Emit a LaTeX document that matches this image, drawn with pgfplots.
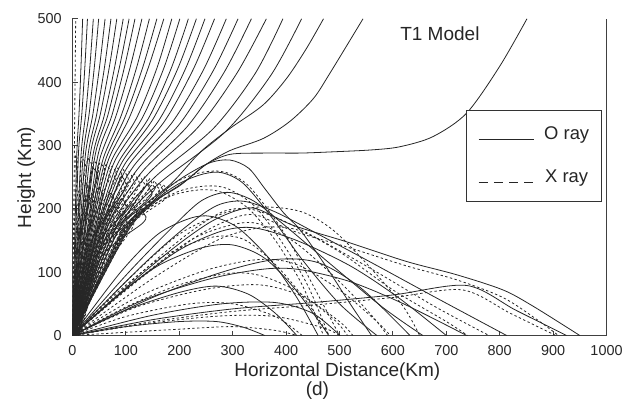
\documentclass[border=0pt]{standalone}
\usepackage{fontspec}
\setmainfont{Liberation Sans}
\usepackage{pgfplots}
\pgfplotsset{compat=1.18}
\pgfplotsset{
  oray/.style={black!85, line width=0.4pt, smooth, forget plot},
  xray/.style={black!85, line width=0.4pt, smooth, dash pattern=on 1.2pt off 1.2pt, forget plot},
}
\begin{document}
\begin{tikzpicture}
\begin{axis}[
  scale only axis, width=267pt, height=158.35pt,
  xmin=0, xmax=1000, ymin=0, ymax=500,
  xtick={0,100,...,1000}, ytick={0,100,...,500},
  scaled ticks=false,
  /pgf/number format/1000 sep={},
  /pgf/number format/assume math mode=true,
  axis x line*=bottom, axis y line*=left,
  axis line style={black!75, line width=0.5pt},
  tick align=inside, major tick length=2.5pt,
  tick style={black!75, line width=0.5pt},
  ticklabel style={font=\fontsize{7.2}{8}\selectfont, text=black!85},
  xticklabel style={yshift=-1.35pt},
  yticklabel style={xshift=-1.85pt},
  clip mode=individual,
  legend style={at={(0.991,0.712)}, anchor=north east, draw=black!80, line width=0.5pt,
    fill=white, font=\fontsize{9.2}{10}\selectfont, inner xsep=6pt, inner ysep=8pt,
    row sep=13.8pt, column sep=5pt, nodes={inner sep=0pt, text=black!85}},
  legend image code/.code={\draw[#1] (0pt,-2.3pt) -- (27.5pt,-2.3pt);},
]
\addlegendimage{black!85, line width=0.5pt}
\addlegendentry{O ray}
\addlegendimage{black!85, line width=0.5pt, dash pattern=on 4.5pt off 3.1pt}
\addlegendentry{X ray}

% escaping O rays
\addplot[oray] coordinates {(0,0)(4,142)(8,285)(12.2,350)(15.9,425)(19,500)};
\addplot[oray] coordinates {(0,0)(5.5,142)(11,285)(17.5,350)(23.2,425)(28,500)};
\addplot[oray] coordinates {(0,0)(8,142)(16,285)(24.7,350)(32.6,425)(39,500)};
\addplot[oray] coordinates {(0,0)(10,142)(20,284)(31,349)(40.9,424)(49,500)};
\addplot[oray] coordinates {(0,0)(12,142)(24,284)(38.1,349)(50.6,424)(61,500)};
\addplot[oray] coordinates {(0,0)(14.5,142)(29,284)(45.3,349)(60,424)(72,500)};
\addplot[oray] coordinates {(0,0)(16.5,142)(33,284)(52,349)(69,424)(83,500)};
\addplot[oray] coordinates {(0,0)(19,141)(38,283)(59.7,348)(79,424)(95,500)};
\addplot[oray] coordinates {(0,0)(21,141)(42,283)(66.3,348)(88,424)(106,500)};
\addplot[oray] coordinates {(0,0)(23.5,141)(47,282)(73.6,347)(97.4,424)(117,500)};
\addplot[oray] coordinates {(0,0)(29,160)(38.7,221)(52,281.5)(81.6,347)(108,423.5)(130,500)};
\addplot[oray] coordinates {(0,0)(31.8,160)(42.8,220)(58,280.6)(90.7,346)(120,423)(144,500)};
\addplot[oray] coordinates {(0,0)(33.8,160)(46.1,220)(63,280)(99,346)(131.4,423)(158,500)};
\addplot[oray] coordinates {(0,0)(35.9,160)(49.4,219.5)(68,279)(107,345)(142,423)(171,500)};
\addplot[oray] coordinates {(0,0)(38.3,160)(53.3,219)(74,278)(121,345)(158,422)(186,500)};
\addplot[oray] coordinates {(0,0)(40.7,160)(57.2,218.5)(80,277)(131,344)(171,422)(201,500)};
\addplot[oray] coordinates {(0,0)(43.5,160)(61.8,217.5)(87,275)(142,342.5)(184.5,421)(217,500)};
\addplot[oray] coordinates {(0,0)(45.6,160)(65.5,217)(93,274)(151,342)(197,421)(232,500)};
\addplot[oray] coordinates {(0,0)(47.7,160)(69.2,216)(99,272)(162,340)(211,420)(248,500)};
\addplot[oray] coordinates {(0,0)(50.3,160)(73.7,215)(106,270)(173,339)(226,420)(266,500)};
\addplot[oray] coordinates {(0,0)(53.6,160)(79.4,214)(115,268)(188,338)(245,419)(288,500)};
\addplot[oray] coordinates {(0,0)(56.9,160)(85.1,212.5)(124,265)(202,335.5)(263.5,418)(310,500)};
\addplot[oray] coordinates {(0,0)(60.5,160)(91.4,211)(134,262)(218,333)(285,417)(335,500)};
\addplot[oray] coordinates {(0,0)(64.7,160)(98.4,209)(145,258)(237,330.6)(308.5,415)(363,500)};
\addplot[oray] coordinates {(0,0)(70,160)(107,206.5)(158,253)(264,327)(342,413.5)(394,500)};
\addplot[oray] coordinates {(0,0)(75.8,160)(116.2,203.5)(172,247)(288,323)(372,411.5)(429,500)};
\addplot[oray] coordinates {(0,0)(82.5,160)(125.5,200)(185,240)(240,290)(295,327)(357,364)(401,406)(438,453)(470,500)};
\addplot[oray] coordinates {(0,0)(92,160)(140,205)(200,236)(250,270)(295,292)(357,311)(407,338)(451,374)(482,414)(544,500)};
\addplot[oray] coordinates {(0,0)(100,160)(150,208)(210,243)(250,270)(295,286)(360,288)(426,288)(488,290)(560,293)(613,298)(675,314)(738,351)(800,425)(851,500)};

% high-angle X rays returning near the origin
\addplot[xray] coordinates {(0,0)(3,250)(6,500)};
\addplot[xray] coordinates {(0,0)(4,160)(5.1,276.2)(8.1,281.2)(10.1,274.2)(9.3,260)(3.2,168.7)(0.6,0)};
\addplot[xray] coordinates {(0,0)(10,160)(16,273.5)(20,278.5)(24,270.5)(22.5,256.5)(7.8,167.1)(1.5,0)};
\addplot[xray] coordinates {(0,0)(16,160)(26.7,270.7)(31.7,275.7)(36.7,267.7)(34.7,253.7)(12.4,165.4)(2.4,0)};
\addplot[xray] coordinates {(0,0)(22,160)(37.2,267)(43.2,273)(48.2,265)(46.2,251)(16.9,163.8)(3.3,0)};
\addplot[xray] coordinates {(0,0)(28,160)(48.4,264.3)(54.4,270.3)(59.4,262.3)(57.4,248.3)(21.3,162.2)(4.2,0)};
\addplot[xray] coordinates {(0,0)(34,160)(59.4,261.5)(65.4,267.5)(70.4,259.5)(68.4,245.5)(25.6,160.5)(5.1,0)};
\addplot[xray] coordinates {(0,0)(40,160)(70.1,258.8)(76.1,264.8)(81.1,256.8)(79.1,242.8)(29.8,158.9)(6,0)};
\addplot[xray] coordinates {(0,0)(46,160)(80.7,256.1)(86.7,262.1)(91.7,254.1)(89.7,240.1)(33.9,157.3)(6.9,0)};
\addplot[xray] coordinates {(0,0)(52,160)(90.9,253.4)(96.9,259.4)(101.9,251.4)(99.9,237.4)(37.9,155.6)(7.8,0)};
\addplot[xray] coordinates {(0,0)(58,160)(101,250.6)(107,256.6)(112,248.6)(110,234.6)(41.9,154)(8.7,0)};
\addplot[xray] coordinates {(0,0)(64,160)(110.8,247.9)(116.8,253.9)(121.8,245.9)(119.8,231.9)(45.7,152.3)(9.6,0)};
\addplot[xray] coordinates {(0,0)(70,160)(120.4,245.2)(126.4,251.2)(131.4,243.2)(129.4,229.2)(49.4,150.7)(10.5,0)};
\addplot[xray] coordinates {(0,0)(76,160)(129.7,242.5)(135.7,248.5)(140.7,240.5)(138.7,226.5)(53.1,149.1)(11.4,0)};
\addplot[xray] coordinates {(0,0)(82,160)(138.8,239.7)(144.8,245.7)(149.8,237.7)(147.8,223.7)(56.7,147.4)(12.3,0)};
\addplot[xray] coordinates {(0,0)(88,160)(147.7,237)(153.7,243)(158.7,235)(156.7,221)(60.1,145.8)(13.2,0)};
\addplot[xray] coordinates {(0,0)(94,160)(156.3,234.3)(162.3,240.3)(167.3,232.3)(165.3,218.3)(63.5,144.2)(14,0)};
\addplot[xray] coordinates {(0,0)(100,160)(164.7,231.5)(170.7,237.5)(175.7,229.5)(173.7,215.5)(66.8,142.5)(15,0)};
\addplot[xray] coordinates {(0,0)(7,160)(9.4,222.5)(11.4,226.5)(13.4,219.5)(12.4,205)(8,124.6)(0.5,0)};
\addplot[xray] coordinates {(0,0)(19,160)(26.1,216.5)(30.1,220.5)(35.1,212.5)(33.1,198.5)(21.1,121.3)(1.5,0)};
\addplot[xray] coordinates {(0,0)(31,160)(41.8,208.5)(47.8,214.5)(52.8,206.5)(50.8,192.5)(33.5,118)(2.5,0)};
\addplot[xray] coordinates {(0,0)(43,160)(58.4,202.5)(64.4,208.5)(69.4,200.5)(67.4,186.5)(45.1,114.7)(3.5,0)};
\addplot[xray] coordinates {(0,0)(55,160)(74.1,196.5)(80.1,202.5)(85.1,194.5)(83.1,180.5)(48.1,111.4)(4.5,0)};
\addplot[xray] coordinates {(0,0)(67,160)(88.6,190.5)(94.6,196.5)(99.6,188.5)(97.6,174.5)(56.8,108.1)(5.5,0)};
\addplot[xray] coordinates {(0,0)(79,160)(102.1,184.5)(108.1,190.5)(113.1,182.5)(111.1,168.5)(60,104.8)(6.5,0)};

% high-angle O rays returning near the origin
\addplot[oray] coordinates {(0,0)(15,160)(22.9,235)(25.9,240)(29,233)(28,220)(10.1,144)(2,0)};
\addplot[oray] coordinates {(0,0)(22,160)(35.4,256)(41.4,262)(46.4,254)(44.4,240)(16.2,157.2)(3,0)};
\addplot[oray] coordinates {(0,0)(30,160)(44,226)(50,232)(55,224)(53,210)(19.6,139.2)(4,0)};
\addplot[oray] coordinates {(0,0)(45,160)(66.5,218)(72.5,224)(77.5,216)(75.5,202)(28.4,134.4)(6,0)};
\addplot[oray] coordinates {(0,0)(52,160)(87.4,244)(93.4,250)(98.4,242)(96.4,228)(36.6,150)(7,0)};
\addplot[oray] coordinates {(0,0)(60,160)(87.2,210)(93.2,216)(98.2,208)(96.2,194)(36.5,129.6)(8,0)};
\addplot[oray] coordinates {(0,0)(75,160)(106,202)(112,208)(117,200)(115,186)(43.9,124.8)(10,0)};
\addplot[oray] coordinates {(0,0)(82,160)(134.3,232)(140.3,238)(145.3,230)(143.3,216)(54.9,142.8)(11,0)};
\addplot[oray] coordinates {(0,0)(90,160)(123,194)(129,200)(134,192)(132,178)(50.6,120)(12,0)};

% low-angle O rays
\addplot[oray] coordinates {(0,0)(150,25)(300,42)(450,52)(600,64)(738,79)(830,40)(925,0)};
\addplot[oray] coordinates {(0,0)(120,90)(200,145)(260,180)(310,198)(345,200)(413,174)(513,148)(625,117)(719,96)(806,72)(863,46)(950,0)};
\addplot[oray] coordinates {(0,0)(130,110)(210,170)(270,205)(320,212)(380,195)(460,160)(560,115)(680,60)(813,0)};
\addplot[oray] coordinates {(0,0)(100,95)(180,165)(240,212)(290,226)(340,212)(400,172)(480,115)(580,45)(656,0)};
\addplot[oray] coordinates {(0,0)(96,160)(150,210)(200,240)(245,255)(280,257)(320,240)(370,190)(430,120)(500,50)(570,0)};
\addplot[oray] coordinates {(0,0)(98,160)(150,212)(200,246)(255,272)(295,277)(330,264)(360,232)(395,194)(426,167)(470,115)(520,50)(560,0)};
\addplot[oray] coordinates {(0,0)(150,60)(280,100)(380,120)(460,115)(540,75)(632,0)};
\addplot[oray] coordinates {(0,0)(130,55)(260,90)(360,105)(426,104)(520,85)(620,50)(738,0)};
\addplot[oray] coordinates {(0,0)(150,32)(280,50)(380,52)(450,35)(501,0)};
\addplot[oray] coordinates {(0,0)(100,40)(200,68)(270,78)(330,65)(380,35)(420,0)};
\addplot[oray] coordinates {(0,0)(100,14)(200,22)(270,22)(320,13)(360,0)};
\addplot[oray] coordinates {(0,0)(80,60)(160,110)(240,138)(300,143)(360,122)(420,70)(480,0)};
\addplot[oray] coordinates {(0,0)(110,80)(200,135)(280,165)(340,170)(420,150)(520,110)(610,60)(700,0)};
\addplot[oray] coordinates {(0,0)(90,100)(160,160)(220,185)(260,188)(310,170)(370,120)(420,60)(460,0)};

% low-angle X rays
\addplot[xray] coordinates {(0,0)(100,85)(200,160)(290,195)(360,203)(430,195)(490,165)(560,105)(620,45)(650,0)};
\addplot[xray] coordinates {(0,0)(110,80)(220,150)(300,175)(350,176)(420,145)(500,85)(560,32)(590,0)};
\addplot[xray] coordinates {(0,0)(94,160)(150,205)(200,228)(250,236)(290,232)(340,205)(390,150)(440,80)(480,0)};
\addplot[xray] coordinates {(0,0)(120,60)(250,103)(350,120)(420,112)(500,72)(570,22)(595,0)};
\addplot[xray] coordinates {(0,0)(120,45)(250,73)(350,80)(430,62)(500,22)(525,0)};
\addplot[xray] coordinates {(0,0)(100,30)(220,50)(300,50)(380,30)(430,0)};
\addplot[xray] coordinates {(0,0)(150,20)(280,31)(380,30)(470,12)(500,0)};
\addplot[xray] coordinates {(0,0)(80,65)(170,125)(260,155)(320,152)(380,112)(440,52)(480,0)};
\addplot[xray] coordinates {(0,0)(92,160)(140,200)(190,222)(240,230)(280,226)(330,200)(380,150)(430,80)(470,0)};
\addplot[xray] coordinates {(0,0)(95,160)(150,215)(200,245)(245,258)(285,258)(325,240)(365,200)(405,150)(450,80)(500,0)};
\addplot[xray] coordinates {(0,0)(150,90)(270,150)(350,170)(420,167)(500,132)(600,72)(700,22)(740,0)};
\addplot[xray] coordinates {(0,0)(150,22)(300,38)(450,48)(600,60)(730,72)(820,35)(905,0)};
\addplot[xray] coordinates {(0,0)(120,85)(230,155)(300,185)(345,190)(413,165)(513,140)(625,110)(719,88)(806,60)(870,25)(910,0)};
\addplot[xray] coordinates {(0,0)(130,100)(215,160)(280,195)(330,200)(390,183)(470,148)(570,100)(680,45)(780,0)};
\addplot[xray] coordinates {(0,0)(100,45)(200,80)(290,98)(350,95)(420,70)(490,25)(515,0)};
\addplot[xray] coordinates {(0,0)(200,10)(300,14)(380,8)(420,0)};

\draw[black!75, line width=0.5pt] (rel axis cs:1,0) -- (rel axis cs:1,1);
\node[font=\fontsize{9.5}{11}\selectfont, anchor=base, text=black!85] at (rel axis cs:0.688,0.933) {T1 Model};
\node[font=\fontsize{9.5}{11}\selectfont, anchor=base, text=black!85] at (rel axis cs:0.496,-0.131) {Horizontal Distance(Km)};
\node[font=\fontsize{9.5}{11}\selectfont, anchor=base, text=black!85] at (rel axis cs:0.4586,-0.19) {(d)};
\node[font=\fontsize{9.5}{11}\selectfont, anchor=base, rotate=90, text=black!85] at (rel axis cs:-0.0777,0.499) {Height (Km)};
\end{axis}
\pgfresetboundingbox
\path[use as bounding box] (-36.25pt,-32.75pt) rectangle (281.25pt,167.75pt);
\end{tikzpicture}
\end{document}
